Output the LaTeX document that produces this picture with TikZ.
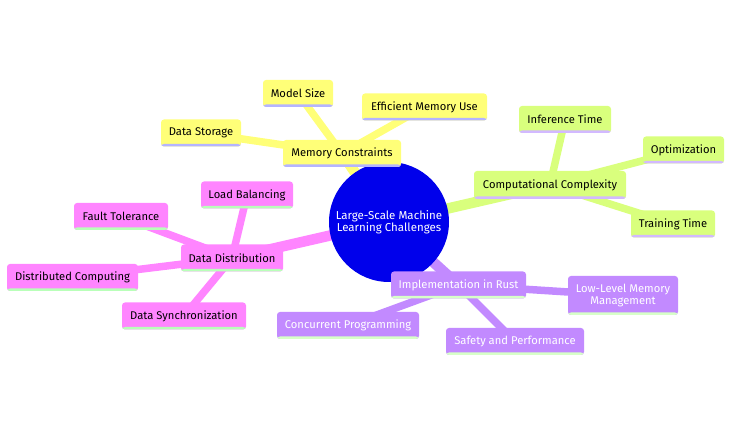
\documentclass[tikz,border=0pt]{standalone}
\usepackage{fontspec}
\setmainfont{Fira Sans}
\usetikzlibrary{backgrounds}

\definecolor{mmblue}{HTML}{0000EB}
\definecolor{mmyellow}{HTML}{FFFF78}
\definecolor{mmlime}{HTML}{D9FF7D}
\definecolor{mmpink}{HTML}{FF85FF}
\definecolor{mmpurple}{HTML}{C28AFF}
\definecolor{lineyellow}{HTML}{B4B4FF}
\definecolor{linelime}{HTML}{D2B9FF}
\definecolor{linepink}{HTML}{B9FFB9}
\definecolor{linepurple}{HTML}{D7FFC8}

\begin{document}
\begin{tikzpicture}[
  x=1pt,y=-1pt,
  box/.style={rectangle,rounded corners=3pt,align=center,minimum height=27pt,inner sep=2pt,font=\fontsize{11.2}{12.5}\selectfont},
  yellowbox/.style={box,fill=mmyellow,path picture={\fill[lineyellow] ([yshift=2.5pt]path picture bounding box.south west) rectangle (path picture bounding box.south east);}},
  limebox/.style={box,fill=mmlime,path picture={\fill[linelime] ([yshift=2.5pt]path picture bounding box.south west) rectangle (path picture bounding box.south east);}},
  pinkbox/.style={box,fill=mmpink,path picture={\fill[linepink] ([yshift=2.5pt]path picture bounding box.south west) rectangle (path picture bounding box.south east);}},
  purplebox/.style={box,fill=mmpurple,text=white,path picture={\fill[linepurple] ([yshift=2.5pt]path picture bounding box.south west) rectangle (path picture bounding box.south east);}},
  rootedge/.style={line width=10.5pt},
  leafedge/.style={line width=7.5pt}
]
\useasboundingbox (0,0) rectangle (732,435);

% Wurzel
\node[circle,fill=mmblue,text=white,minimum size=120pt,inner sep=0pt,align=center,font=\fontsize{11.5}{12.5}\selectfont] (root) at (389,222) {Large-Scale Machine\\Learning Challenges};

% Speicher
\node[yellowbox,minimum width=118pt] (memory) at (342,153.5) {Memory Constraints};
\node[yellowbox,minimum width=70pt] (modelsize) at (298,93.5) {Model Size};
\node[yellowbox,minimum width=125pt] (effmem) at (424.5,107) {Efficient Memory Use};
\node[yellowbox,minimum width=80pt] (storage) at (201,133) {Data Storage};

% Rechenaufwand
\node[limebox,minimum width=152pt,minimum height=28pt] (compute) at (550,185) {Computational Complexity};
\node[limebox,minimum width=92pt] (inference) at (565,119.5) {Inference Time};
\node[limebox,minimum width=81pt] (optim) at (683.5,150) {Optimization};
\node[limebox,minimum width=84pt] (training) at (673,224) {Training Time};

% Verteilung
\node[pinkbox,minimum width=102pt] (distrib) at (232,258) {Data Distribution};
\node[pinkbox,minimum width=92pt] (loadbal) at (247,195) {Load Balancing};
\node[pinkbox,minimum width=94pt] (fault) at (121,216.5) {Fault Tolerance};
\node[pinkbox,minimum width=131pt] (distcomp) at (72.5,277.5) {Distributed Computing};
\node[pinkbox,minimum width=124pt] (datasync) at (184,316) {Data Synchronization};

% Rust
\node[purplebox,minimum width=135pt] (rust) at (458.5,285) {Implementation in Rust};
\node[purplebox,minimum width=110pt,minimum height=39pt] (lowlevel) at (623,295.5) {Low-Level Memory\\Management};
\node[purplebox,minimum width=142pt] (concurrent) at (348,325.5) {Concurrent Programming};
\node[purplebox,minimum width=138pt] (safety) at (515,341.5) {Safety and Performance};

\begin{scope}[on background layer]
\draw[rootedge,mmyellow] (root.center) -- (memory.center);
\draw[rootedge,mmlime] (root.center) -- (compute.center);
\draw[rootedge,mmpink] (root.center) -- (distrib.center);
\draw[rootedge,mmpurple] (root.center) -- (rust.center);
\draw[leafedge,mmyellow] (memory.center) -- (modelsize.center);
\draw[leafedge,mmyellow] (memory.center) -- (effmem.center);
\draw[leafedge,mmyellow] (memory.center) -- (storage.center);
\draw[leafedge,mmlime] (compute.center) -- (inference.center);
\draw[leafedge,mmlime] (compute.center) -- (optim.center);
\draw[leafedge,mmlime] (compute.center) -- (training.center);
\draw[leafedge,mmpink] (distrib.center) -- (loadbal.center);
\draw[leafedge,mmpink] (distrib.center) -- (fault.center);
\draw[leafedge,mmpink] (distrib.center) -- (distcomp.center);
\draw[leafedge,mmpink] (distrib.center) -- (datasync.center);
\draw[leafedge,mmpurple] (rust.center) -- (lowlevel.center);
\draw[leafedge,mmpurple] (rust.center) -- (concurrent.center);
\draw[leafedge,mmpurple] (rust.center) -- (safety.center);
\end{scope}

\end{tikzpicture}
\end{document}
